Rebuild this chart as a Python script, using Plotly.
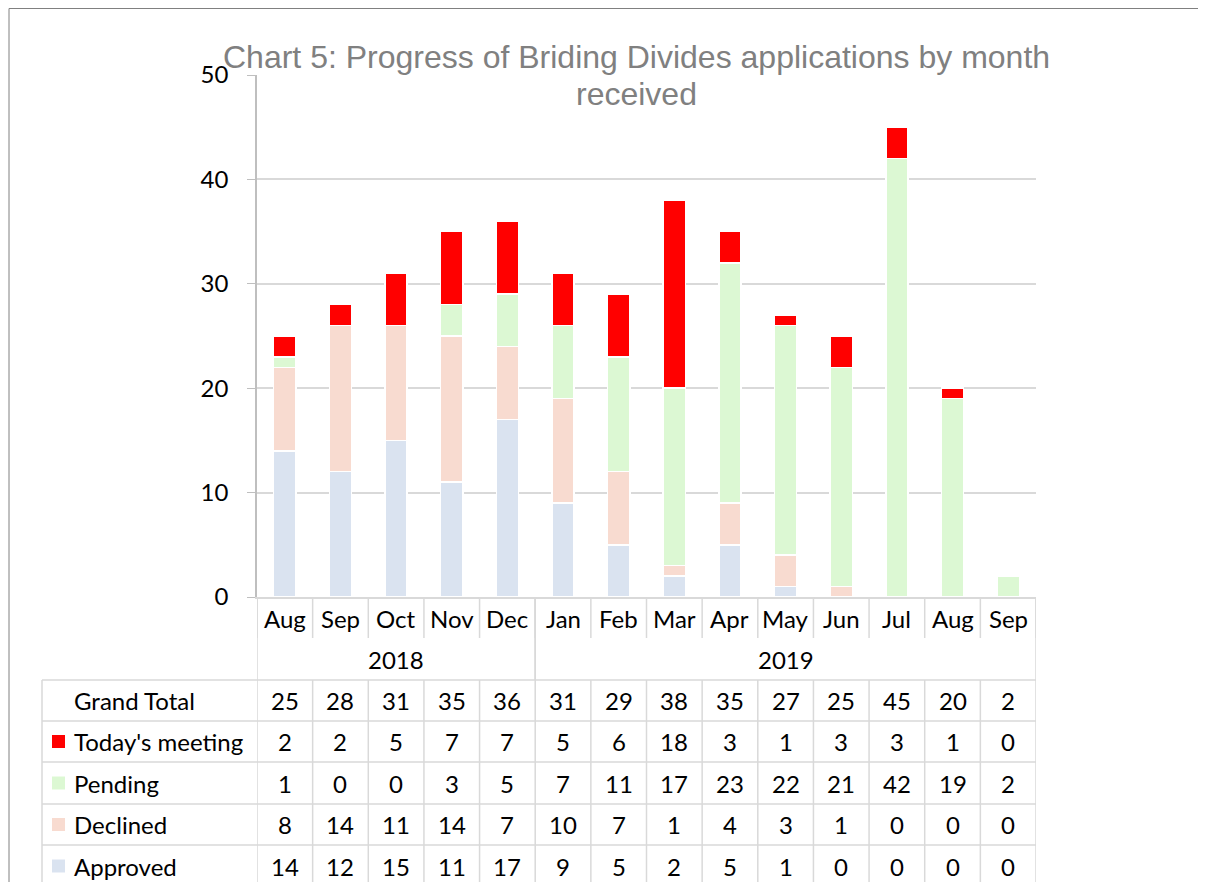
import plotly.graph_objects as go

months = ["Aug", "Sep", "Oct", "Nov", "Dec", "Jan", "Feb", "Mar", "Apr", "May", "Jun", "Jul", "Aug", "Sep"]
years = ["2018", "2019"]
year_spans = [(0, 4), (5, 13)]
approved = [14, 12, 15, 11, 17, 9, 5, 2, 5, 1, 0, 0, 0, 0]
declined = [8, 14, 11, 14, 7, 10, 7, 1, 4, 3, 1, 0, 0, 0]
pending = [1, 0, 0, 3, 5, 7, 11, 17, 23, 22, 21, 42, 19, 2]
meeting = [2, 2, 5, 7, 7, 5, 6, 18, 3, 1, 3, 3, 1, 0]
grand_total = [25, 28, 31, 35, 36, 31, 29, 38, 35, 27, 25, 45, 20, 2]

series = [
    ("Approved", approved, "#DAE3F0"),
    ("Declined", declined, "#F8DBD0"),
    ("Pending", pending, "#DCF8D3"),
    ("Today's meeting", meeting, "#FF0000"),
]

# pixel geometry (screen coordinates) of the plot area
PX0, PX1, PY0, PY1 = 257, 1036, 75, 597
SW, SH = 1206, 882
OFF = 8  # page body margin


def px(x):
    return (x - PX0) / (PX1 - PX0)


def py(y):
    return (PY1 - y) / (PY1 - PY0)


xs = list(range(len(months)))
fig = go.Figure()
for name, vals, col in series:
    fig.add_trace(go.Bar(x=xs, y=vals, name=name, marker=dict(color=col, line=dict(color="white", width=1.5))))

FONT = "Lato"
TXT = dict(family=FONT, size=24, color="black")
GRID = "#D9D9D9"
TITLE_FONT = dict(family="Liberation Sans", size=32, color="#808080")

shapes = []
annotations = []

# title (two lines)
annotations.append(dict(text="Chart 5: Progress of Briding Divides applications by month",
                        xref="paper", yref="paper", x=px(636), y=py(57), xanchor="center", yanchor="middle",
                        showarrow=False, font=TITLE_FONT))
annotations.append(dict(text="received",
                        xref="paper", yref="paper", x=px(636), y=py(94), xanchor="center", yanchor="middle",
                        showarrow=False, font=TITLE_FONT))

# outer chart border
shapes.append(dict(type="line", xref="paper", yref="paper", x0=px(9), x1=px(9), y0=py(8.5), y1=py(900),
                   line=dict(color="#808080", width=1)))
shapes.append(dict(type="line", xref="paper", yref="paper", x0=px(9), x1=px(1220), y0=py(8.5), y1=py(8.5),
                   line=dict(color="#808080", width=1)))

# month label row
for i, m in enumerate(months):
    annotations.append(dict(text=m, xref="x", yref="paper", x=i, y=py(618), showarrow=False,
                            xanchor="center", yanchor="middle", font=TXT))
for i in range(len(months) + 1):
    shapes.append(dict(type="line", xref="x", yref="paper", x0=i - 0.5, x1=i - 0.5, y0=py(597), y1=py(638),
                       line=dict(color=GRID, width=1.5)))
# year row
for yr, (a, b) in zip(years, year_spans):
    annotations.append(dict(text=yr, xref="x", yref="paper", x=(a + b) / 2, y=py(659), showarrow=False,
                            xanchor="center", yanchor="middle", font=TXT))
    for edge in (a - 0.5, b + 0.5):
        shapes.append(dict(type="line", xref="x", yref="paper", x0=edge, x1=edge, y0=py(597), y1=py(680),
                           line=dict(color=GRID, width=1.5)))

# data rows
rows = [("Grand Total", grand_total, None)] + [(n, v, c) for n, v, c in reversed(series)]
row_tops = [680, 721, 762, 804, 845, 887]
for r, (name, vals, col) in enumerate(rows):
    yc = (row_tops[r] + row_tops[r + 1]) / 2
    annotations.append(dict(text=name, xref="paper", yref="paper", x=px(72), y=py(yc), showarrow=False,
                            xanchor="left", yanchor="middle", font=TXT))
    if col:
        shapes.append(dict(type="rect", xref="paper", yref="paper", x0=px(52), x1=px(65),
                           y0=py(yc - 6.5), y1=py(yc + 6.5), fillcolor=col, line=dict(width=0)))
    for i, v in enumerate(vals):
        annotations.append(dict(text=str(v), xref="x", yref="paper", x=i, y=py(yc), showarrow=False,
                                xanchor="center", yanchor="middle", font=TXT))
for yt in row_tops[:-1]:
    shapes.append(dict(type="line", xref="paper", yref="paper", x0=px(42), x1=px(PX1), y0=py(yt), y1=py(yt),
                       line=dict(color=GRID, width=1.5)))
shapes.append(dict(type="line", xref="paper", yref="paper", x0=px(42), x1=px(42), y0=py(680), y1=py(900),
                   line=dict(color=GRID, width=1.5)))
for i in range(len(months) + 1):
    shapes.append(dict(type="line", xref="x", yref="paper", x0=i - 0.5, x1=i - 0.5, y0=py(680), y1=py(900),
                       line=dict(color=GRID, width=1.5)))

fig.update_layout(
    width=SW - OFF, height=SH - OFF,
    margin=dict(l=PX0 - OFF, r=SW - PX1, t=PY0 - OFF, b=SH - PY1, pad=0),
    barmode="stack", bargap=0.6,
    plot_bgcolor="white", paper_bgcolor="white",
    showlegend=False,
    shapes=shapes, annotations=annotations,
    font=dict(family=FONT, size=24, color="black"),
)
fig.update_xaxes(range=[-0.5, len(months) - 0.5], showticklabels=False, showgrid=False, zeroline=False,
                 showline=True, linecolor=GRID, linewidth=1.5, ticks="")
fig.update_yaxes(range=[0, 50], dtick=10, showgrid=True, gridcolor=GRID, gridwidth=1.5, zeroline=False,
                 showline=True, linecolor="#BFBFBF", linewidth=1.5, ticks="outside", ticklen=8,
                 tickcolor="#BFBFBF", tickfont=TXT, ticklabelstandoff=14)

fig.write_html("out.html")
